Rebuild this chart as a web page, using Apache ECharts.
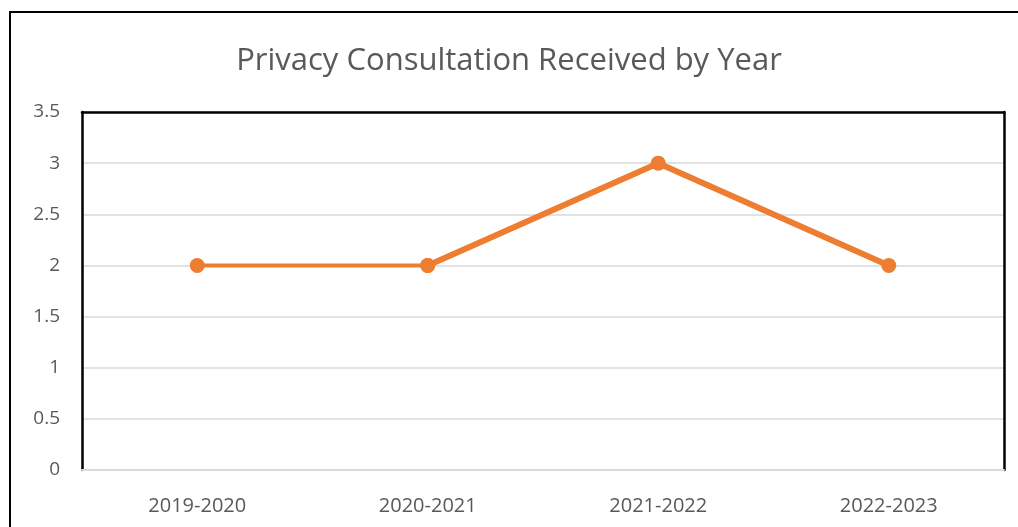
<!DOCTYPE html>
<html>
<head>
<meta charset="utf-8">
<script src="https://cdn.jsdelivr.net/npm/echarts@6/dist/echarts.min.js"></script>
<style>
html,body{margin:0;padding:0;background:#fff;}
#c{width:1018px;height:527px;}
</style>
</head>
<body>
<div id="c"></div>
<script>
const title = "Privacy Consultation Received by Year";
const categories = ["2019-2020", "2020-2021", "2021-2022", "2022-2023"];
const values = [2, 2, 3, 2];
const yTicks = [0, 0.5, 1, 1.5, 2, 2.5, 3, 3.5];

const chart = echarts.init(document.getElementById('c'));
const orange = '#ED7D31';
// first segment drawn slightly thinner as in the reference
const seg1 = values.map((v, i) => i <= 1 ? v : null);
const seg2 = values.map((v, i) => i >= 1 ? v : null);
const yMin = yTicks[0], yMax = yTicks[yTicks.length - 1];

chart.setOption({
  backgroundColor: '#fff',
  animation: false,
  title: {
    text: title,
    left: 'center',
    top: 41,
    textStyle: {fontFamily: 'Open Sans', fontSize: 31, fontWeight: 'normal', color: '#595959'}
  },
  graphic: [
    {type: 'line', shape: {x1: 10, y1: 11, x2: 10, y2: 527}, style: {stroke: '#000', lineWidth: 2}},
    {type: 'line', shape: {x1: 9, y1: 12, x2: 1018, y2: 12}, style: {stroke: '#000', lineWidth: 2}}
  ],
  grid: {left: 82, right: 14, top: 112, bottom: 57},
  xAxis: [{
    type: 'category',
    data: categories,
    boundaryGap: true,
    axisLine: {show: true, onZero: false, lineStyle: {color: '#d9d9d9', width: 2}},
    axisTick: {show: false},
    axisLabel: {color: '#595959', fontSize: 20, fontFamily: 'Open Sans', margin: 26}
  }, {
    type: 'category',
    data: categories,
    position: 'top',
    axisLine: {show: true, onZero: false, lineStyle: {color: '#000', width: 2.5}},
    axisTick: {show: false},
    axisLabel: {show: false}
  }],
  yAxis: [{
    type: 'value',
    min: yMin,
    max: yMax,
    interval: 0.5,
    axisLine: {show: true, lineStyle: {color: '#000', width: 2.5}},
    axisTick: {show: false},
    splitLine: {lineStyle: {color: '#d9d9d9', width: 1.5}},
    axisLabel: {color: '#595959', fontSize: 19, fontFamily: 'Open Sans', margin: 22}
  }, {
    type: 'value',
    min: yMin,
    max: yMax,
    interval: 0.5,
    position: 'right',
    axisLine: {show: true, lineStyle: {color: '#000', width: 2.5}},
    axisTick: {show: false},
    splitLine: {show: false},
    axisLabel: {show: false}
  }],
  series: [
    {
      type: 'line', data: seg1, connectNulls: false,
      symbol: 'circle', symbolSize: 15,
      lineStyle: {color: orange, width: 4},
      itemStyle: {color: orange}
    },
    {
      type: 'line', data: seg2, connectNulls: false,
      symbol: 'circle', symbolSize: 15,
      lineStyle: {color: orange, width: 6},
      itemStyle: {color: orange}
    }
  ]
});
</script>
</body>
</html>
